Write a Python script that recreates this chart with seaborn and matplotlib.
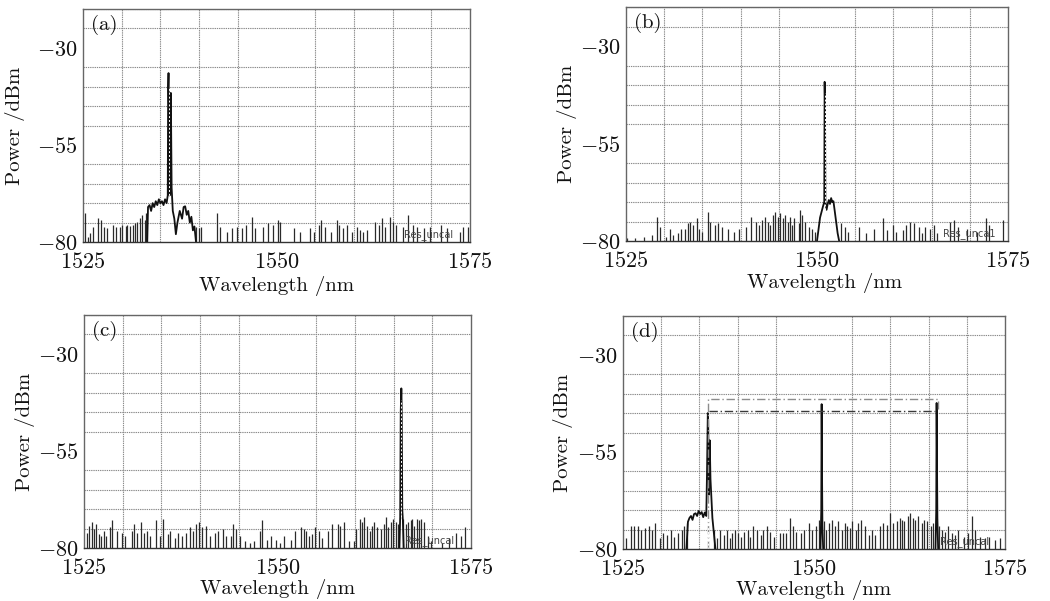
"""
Optical spectra of the four-wavelength switching output (panels a-d).
Recreated with seaborn + matplotlib, values read off the OSA screenshots.
"""

import matplotlib
matplotlib.use("Agg")
import matplotlib.pyplot as plt
import seaborn as sns
import pandas as pd

sns.set_theme(style="white")
plt.rcParams["font.family"] = "serif"
plt.rcParams["font.serif"] = ["cmr10", "DejaVu Serif"]
plt.rcParams["mathtext.fontset"] = "cm"
plt.rcParams["axes.formatter.use_mathtext"] = True

X_TICKS = [1525, 1550, 1575]
Y_TICKS = [-30, -55, -80]
X_LABEL = "Wavelength /nm"
Y_LABEL = "Power /dBm"
PANEL_TAGS = ["(a)", "(b)", "(c)", "(d)"]
RES_TEXT = ["Res_uncal", "Res_unca1", "Res_uncal", "Res_uncal"]
FLOOR = -80

# ── panel (a): lasing at 1536 nm ──────────────────────────────────────────
a_noise_wl = [1525.3, 1525.6, 1525.9, 1526.3, 1527.0, 1527.3, 1527.7, 1528.1, 1528.9, 1529.3,
              1529.8, 1530.1, 1530.5, 1530.7, 1531.1, 1531.4, 1531.7, 1532.0, 1532.4, 1532.6,
              1533.0, 1533.2, 1539.6, 1540.0, 1540.3, 1542.3, 1542.7, 1543.6, 1544.2, 1544.9,
              1545.6, 1546.1, 1546.8, 1547.2, 1548.3, 1548.9, 1549.6, 1550.2, 1550.5, 1552.2,
              1553.0, 1554.3, 1554.8, 1555.5, 1555.8, 1556.3, 1557.1, 1557.8, 1558.1, 1558.6,
              1559.1, 1559.8, 1560.4, 1560.8, 1561.2, 1561.7, 1562.7, 1563.2, 1563.6, 1564.0,
              1564.7, 1565.1, 1565.5, 1566.4, 1567.0, 1567.7, 1568.1, 1569.0, 1569.8, 1571.3,
              1572.0, 1573.7, 1574.1, 1574.8]
a_noise_db = [-72.6, -78.6, -77.8, -76.1, -73.9, -74.3, -76.1, -76.5, -75.6, -76.1,
              -76.1, -75.5, -75.8, -75.5, -75.8, -75.5, -75.2, -74.8, -73.9, -73.0,
              -74.3, -72.6, -76.1, -76.5, -76.1, -72.6, -76.1, -77.4, -76.5, -76.1,
              -76.5, -75.6, -73.5, -76.5, -76.1, -75.2, -75.6, -74.3, -74.8, -76.5,
              -77.4, -76.5, -77.4, -75.6, -74.3, -76.1, -77.4, -74.3, -75.6, -76.5,
              -75.6, -77.4, -76.1, -77.0, -77.4, -77.0, -74.8, -75.6, -73.9, -76.1,
              -73.5, -74.8, -75.6, -76.1, -73.0, -75.6, -76.1, -76.5, -76.1, -75.6,
              -76.5, -77.4, -76.1, -76.1]
a_peak_wl = [1533.3, 1533.4, 1533.6, 1533.8, 1534.0, 1534.2, 1534.4, 1534.6, 1534.8, 1535.0,
             1535.2, 1535.4, 1535.6, 1535.8, 1535.95, 1536.0, 1536.05, 1536.1, 1536.2, 1536.3,
             1536.35, 1536.45, 1536.6, 1536.8, 1537.0, 1537.2, 1537.5, 1537.8, 1538.0, 1538.2,
             1538.4, 1538.6, 1538.8, 1539.0, 1539.2, 1539.4, 1539.6]
a_peak_db = [-80.0, -71.0, -70.5, -72.0, -70.0, -71.0, -69.5, -70.5, -69.0, -70.0,
             -69.5, -70.5, -69.0, -70.0, -68.0, -40.0, -36.5, -45.0, -68.0, -42.0,
             -41.6, -66.0, -72.0, -74.0, -78.0, -75.0, -72.0, -74.0, -71.0, -70.8,
             -73.0, -72.0, -75.0, -73.5, -77.0, -76.0, -80.0]

# ── panel (b): lasing at 1551 nm ──────────────────────────────────────────
b_noise_wl = [1525.1, 1526.2, 1527.3, 1528.4, 1529.1, 1529.4, 1530.2, 1530.7, 1531.2, 1531.8,
              1532.2, 1532.7, 1533.1, 1533.4, 1533.8, 1534.3, 1534.6, 1535.0, 1535.7, 1536.0,
              1536.6, 1537.0, 1537.6, 1538.3, 1539.1, 1539.8, 1540.7, 1541.4, 1542.0, 1542.4,
              1542.8, 1543.2, 1543.6, 1543.9, 1544.2, 1544.5, 1544.9, 1545.2, 1545.5, 1545.8,
              1546.2, 1546.5, 1546.7, 1547.0, 1547.6, 1547.8, 1548.1, 1548.4, 1548.9, 1549.3,
              1549.7, 1553.2, 1553.6, 1554.0, 1555.5, 1556.4, 1557.5, 1558.6, 1559.2, 1559.9,
              1560.3, 1561.2, 1561.6, 1562.2, 1562.7, 1563.3, 1563.7, 1564.2, 1564.8, 1565.3,
              1565.7, 1567.4, 1567.9, 1568.4, 1569.6, 1570.9, 1572.1, 1572.5, 1574.3]
b_noise_db = [-79.3, -79.3, -78.9, -78.5, -73.8, -76.3, -78.9, -76.8, -78.5, -78.0,
              -76.8, -76.8, -75.5, -75.0, -75.9, -74.2, -76.8, -77.6, -72.5, -75.0,
              -75.9, -75.5, -76.3, -76.8, -77.6, -76.8, -76.3, -73.8, -75.0, -75.9,
              -74.6, -73.8, -75.0, -75.9, -73.3, -72.5, -73.8, -72.9, -74.2, -73.3,
              -75.0, -73.8, -75.9, -74.2, -75.5, -72.0, -73.3, -75.0, -76.3, -76.8,
              -77.6, -75.5, -76.3, -77.6, -76.3, -78.0, -76.8, -74.2, -77.2, -75.9,
              -77.6, -77.2, -75.9, -75.0, -75.5, -76.3, -78.0, -76.3, -76.8, -75.9,
              -78.0, -75.0, -74.6, -76.3, -76.8, -77.6, -74.2, -75.9, -74.6]
b_peak_wl = [1550.0, 1550.2, 1550.4, 1550.6, 1550.8, 1550.95, 1551.0, 1551.05, 1551.1, 1551.25,
             1551.4, 1551.55, 1551.7, 1551.85, 1552.0, 1552.15, 1552.3, 1552.5, 1552.7, 1552.9]
b_peak_db = [-80.0, -77.0, -74.0, -72.5, -71.0, -70.0, -39.2, -45.0, -70.0, -72.0,
             -70.5, -69.5, -70.5, -69.0, -70.0, -69.8, -72.0, -75.0, -78.0, -80.0]

# ── panel (c): lasing at 1566 nm ──────────────────────────────────────────
c_noise_wl = [1525.4, 1525.7, 1526.0, 1526.3, 1526.6, 1526.9, 1527.2, 1527.6, 1527.9, 1528.3,
              1528.6, 1529.2, 1529.9, 1530.3, 1531.2, 1531.5, 1531.8, 1532.3, 1532.8, 1533.1,
              1533.5, 1534.3, 1534.8, 1535.2, 1535.8, 1536.1, 1536.7, 1537.2, 1537.6, 1538.2,
              1538.7, 1539.1, 1539.5, 1539.8, 1540.2, 1540.7, 1541.3, 1541.9, 1542.3, 1543.0,
              1543.4, 1544.0, 1544.3, 1544.7, 1545.1, 1545.8, 1546.4, 1547.0, 1547.7, 1548.0,
              1548.6, 1549.2, 1549.8, 1550.3, 1550.9, 1551.8, 1552.2, 1553.1, 1553.4, 1553.7,
              1554.1, 1554.5, 1554.8, 1555.4, 1555.8, 1556.5, 1557.1, 1557.8, 1558.1, 1558.6,
              1559.3, 1559.9, 1560.2, 1560.6, 1560.9, 1561.2, 1561.5, 1561.9, 1562.2, 1562.5,
              1562.9, 1563.4, 1563.7, 1564.0, 1564.3, 1564.6, 1564.9, 1565.3, 1565.6, 1566.2,
              1566.6, 1566.9, 1567.2, 1567.4, 1567.7, 1568.0, 1568.3, 1568.6, 1568.9, 1569.4,
              1569.8, 1571.3, 1572.2, 1573.0, 1573.7, 1574.2]
c_noise_db = [-76.1, -74.3, -73.4, -75.2, -73.8, -76.5, -77.0, -75.6, -77.0, -74.7,
              -72.9, -75.6, -76.1, -77.0, -75.6, -73.8, -76.1, -73.4, -76.1, -75.6,
              -77.0, -72.9, -77.0, -72.5, -76.5, -75.6, -77.4, -76.1, -77.0, -76.1,
              -74.7, -75.6, -73.8, -73.4, -74.7, -74.3, -77.0, -76.1, -75.6, -75.2,
              -77.0, -77.0, -73.8, -75.2, -77.0, -78.3, -78.7, -78.3, -75.6, -72.9,
              -77.9, -77.0, -77.9, -78.7, -77.0, -77.9, -75.6, -74.7, -75.2, -75.6,
              -77.0, -76.5, -74.7, -75.6, -77.4, -75.6, -73.8, -73.8, -74.3, -73.4,
              -78.3, -78.3, -75.2, -72.5, -73.4, -72.1, -74.3, -75.6, -74.3, -73.4,
              -74.7, -75.2, -73.8, -72.1, -74.7, -73.4, -72.5, -73.4, -73.8, -72.5,
              -73.8, -73.4, -72.9, -72.5, -74.3, -72.5, -72.9, -72.5, -73.4, -77.0,
              -78.3, -78.7, -77.4, -76.1, -77.0, -74.7]
c_peak_wl = [1565.75, 1565.85, 1565.92, 1566.0, 1566.05, 1566.12, 1566.2, 1566.3]
c_peak_db = [-80.0, -72.0, -45.0, -38.9, -44.0, -70.0, -73.0, -80.0]

# ── panel (d): simultaneous three-wavelength output ──────────────────────
d_noise_wl = [1525.4, 1526.0, 1526.5, 1526.9, 1527.3, 1527.9, 1528.4, 1528.8, 1529.2, 1529.8,
              1530.2, 1530.7, 1531.3, 1531.7, 1532.2, 1532.7, 1533.0, 1533.4, 1536.9, 1537.3,
              1537.7, 1538.2, 1538.6, 1539.0, 1539.3, 1539.6, 1540.0, 1540.4, 1540.8, 1541.3,
              1541.6, 1542.0, 1542.6, 1543.0, 1543.3, 1543.9, 1544.3, 1544.8, 1545.5, 1545.9,
              1546.4, 1546.8, 1547.2, 1547.6, 1548.3, 1548.7, 1549.3, 1549.8, 1550.2, 1550.6,
              1551.3, 1551.6, 1551.9, 1552.4, 1552.8, 1553.2, 1553.6, 1554.0, 1554.3, 1554.7,
              1555.0, 1555.5, 1555.8, 1556.2, 1556.7, 1557.2, 1557.6, 1558.0, 1558.6, 1559.0,
              1559.5, 1559.9, 1560.3, 1560.8, 1561.2, 1561.5, 1561.8, 1562.3, 1562.6, 1562.9,
              1563.2, 1563.6, 1564.1, 1564.4, 1564.8, 1565.3, 1565.6, 1566.4, 1566.8, 1567.2,
              1567.6, 1568.1, 1568.5, 1568.9, 1569.6, 1570.1, 1570.7, 1571.1, 1571.7, 1572.4,
              1572.9, 1573.7, 1574.3]
d_noise_db = [-77.2, -74.2, -74.2, -74.2, -75.1, -74.7, -74.2, -75.1, -73.4, -77.2,
              -75.9, -76.4, -75.1, -76.8, -75.9, -75.1, -74.2, -73.4, -75.1, -77.2,
              -75.1, -76.4, -75.1, -77.2, -75.9, -75.1, -75.9, -76.8, -75.5, -75.1,
              -76.8, -74.2, -75.1, -76.4, -75.1, -74.2, -75.5, -76.8, -75.9, -75.9,
              -75.9, -72.1, -74.2, -75.5, -75.9, -75.1, -73.4, -75.1, -74.2, -72.5,
              -72.9, -75.1, -73.4, -72.5, -74.2, -72.9, -75.1, -73.4, -74.2, -74.7,
              -72.9, -75.1, -73.4, -72.5, -74.2, -76.4, -75.1, -76.4, -74.2, -73.4,
              -73.8, -70.8, -73.4, -72.9, -72.1, -72.5, -72.9, -71.6, -70.8, -72.1,
              -72.5, -71.6, -73.4, -72.5, -72.9, -74.2, -73.4, -74.2, -75.1, -75.5,
              -74.2, -75.9, -76.4, -75.1, -76.8, -75.9, -71.6, -75.1, -76.8, -77.2,
              -76.8, -77.7, -77.2]
d_left_wl = [1533.3, 1533.5, 1533.7, 1533.9, 1534.1, 1534.3, 1534.5, 1534.7, 1534.9, 1535.1,
             1535.3, 1535.5, 1535.7, 1535.9, 1536.0, 1536.1, 1536.15, 1536.25, 1536.35, 1536.45,
             1536.55, 1536.7, 1536.9, 1537.1]
d_left_db = [-80.0, -73.0, -72.0, -71.5, -72.5, -71.0, -70.8, -71.5, -70.2, -71.0,
             -70.5, -71.8, -70.6, -71.5, -60.0, -45.0, -47.0, -66.0, -52.0, -62.0,
             -66.0, -72.0, -76.0, -80.0]
d_mid_wl = [1550.85, 1550.95, 1551.0, 1551.05, 1551.1, 1551.2]
d_mid_db = [-80.0, -70.0, -42.7, -60.0, -74.0, -80.0]
d_right_wl = [1565.9, 1566.0, 1566.05, 1566.1, 1566.15, 1566.25]
d_right_db = [-80.0, -70.0, -42.4, -58.0, -72.0, -80.0]
# dash-dot guide frames over the three lines
d_outer_wl = [1536.1, 1536.1, 1566.2, 1566.2]
d_outer_db = [-80.0, -41.4, -41.4, -44.0]
d_inner_wl = [1536.2, 1565.9]
d_inner_db = [-44.4, -44.4]

# white dashed marker lines through the main peaks
marker_wl = [[1536.05], [1551.0], [1566.0], [1536.1]]
marker_top = [[-40.0], [-42.0], [-42.0], [-72.0]]

# axes boxes in pixels (left, top, right, bottom) on the 1050x601 canvas
BOXES = [(83, 9, 470, 242), (626, 7, 1008, 241), (84, 315, 471, 548), (623, 316, 1005, 549)]
YLABEL_X = [-0.150, -0.128, -0.127, -0.131]
XLABEL_Y = [-0.148, -0.137, -0.135, -0.135]
XLABEL_X = [0.5, 0.52, 0.5, 0.5]

W, H = 1050, 601
fig = plt.figure(figsize=(W / 100, H / 100), dpi=100)

noise = [(a_noise_wl, a_noise_db), (b_noise_wl, b_noise_db),
         (c_noise_wl, c_noise_db), (d_noise_wl, d_noise_db)]
peaks = [[(a_peak_wl, a_peak_db)], [(b_peak_wl, b_peak_db)], [(c_peak_wl, c_peak_db)],
         [(d_left_wl, d_left_db), (d_mid_wl, d_mid_db), (d_right_wl, d_right_db)]]

for i, (l, t, r, b) in enumerate(BOXES):
    ax = fig.add_axes([l / W, (H - b) / H, (r - l) / W, (b - t) / H])
    ax.set_xlim(1525, 1575)
    ax.set_ylim(-80, -20)

    # 5 nm / 5 dB grid
    ax.set_xticks(range(1525, 1576, 5), minor=True)
    ax.set_yticks(range(-80, -19, 5), minor=True)
    ax.grid(which="minor", color="#8a8a8a", linestyle=(0, (1.2, 0.8)), linewidth=0.8)
    ax.set_axisbelow(True)
    ax.set_xticks(X_TICKS)
    ax.set_yticks(Y_TICKS)
    ax.tick_params(which="both", length=0, labelsize=16, colors="#111111")
    ax.tick_params(axis="y", pad=4)
    ax.tick_params(axis="x", pad=7.5)
    for sp in ax.spines.values():
        sp.set_color("#666666")
        sp.set_linewidth(1.0)
    ax.spines["bottom"].set_color("#333333")

    wl, db = noise[i]
    ax.vlines(wl, FLOOR, db, color="#2a2a2a", linewidth=0.9)

    for pwl, pdb in peaks[i]:
        df = pd.DataFrame({"wl": pwl, "db": pdb})
        sns.lineplot(data=df, x="wl", y="db", ax=ax, color="#111111", linewidth=1.3,
                     estimator=None, sort=False)

    if i == 3:
        sns.lineplot(x=d_outer_wl, y=d_outer_db, ax=ax, color="#8c8c8c", linewidth=1.0,
                     linestyle=(0, (6, 2, 1, 2)), estimator=None, sort=False)
        sns.lineplot(x=d_inner_wl, y=d_inner_db, ax=ax, color="#3a3a3a", linewidth=1.0,
                     linestyle=(0, (6, 2, 1, 2)), estimator=None, sort=False)

    ax.vlines(marker_wl[i], FLOOR, marker_top[i], color="white", linewidth=0.7,
              linestyle=(0, (2, 2)))

    ax.text(1566.5, -78.2, RES_TEXT[i], fontsize=7, color="#444444", va="center",
            family="DejaVu Sans")
    ax.text(0.02, 0.975, PANEL_TAGS[i], transform=ax.transAxes, fontsize=15,
            va="top", ha="left", color="#111111")

    ax.set_xlabel(X_LABEL, fontsize=15, color="#111111")
    ax.set_ylabel(Y_LABEL, fontsize=15, color="#111111")
    ax.xaxis.set_label_coords(XLABEL_X[i], XLABEL_Y[i])
    ax.yaxis.set_label_coords(YLABEL_X[i], 0.5)

fig.savefig("out.png", dpi=100, facecolor="white")
